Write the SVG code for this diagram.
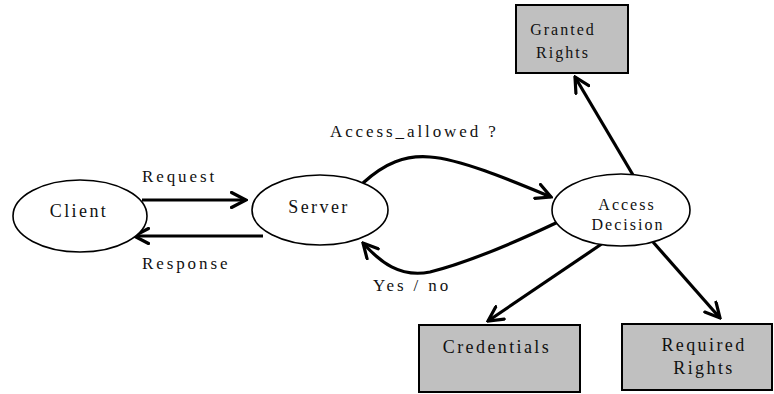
<svg xmlns="http://www.w3.org/2000/svg" width="774" height="394" viewBox="0 0 774 394" font-family="'Liberation Serif', 'Times New Roman', 'DejaVu Serif', serif">
  <style>
    .node ellipse { fill: #ffffff; stroke: #000000; stroke-width: 1.6; }
    .node rect { fill: #c0c0c0; stroke: #000000; stroke-width: 2; }
    text { font-family: 'Liberation Serif', 'Times New Roman', 'DejaVu Serif', serif; fill: #111111; text-anchor: middle; }
    .big { font-size: 18px; letter-spacing: 2.4px; }
    .small { font-size: 16px; letter-spacing: 2px; }
    .label { font-size: 17px; letter-spacing: 2.9px; text-anchor: start; }
    .edge { fill: none; stroke: #000000; stroke-width: 3.2; marker-end: url(#open); }
  </style>
  <defs>
    <marker id="open" markerUnits="userSpaceOnUse" viewBox="0 0 18 18" refX="16" refY="9" markerWidth="18" markerHeight="18" orient="auto">
      <path d="M1.5,1.5 L16,9 L1.5,16.5" fill="none" stroke="#000000" stroke-width="3.2" stroke-linecap="round" stroke-linejoin="miter"/>
    </marker>
  </defs>

  <rect width="774" height="394" fill="#ffffff"/>

  <g id="connectors">
    <path class="edge" d="M142,200 L246,200"/>
    <path class="edge" d="M263,236 L134,236"/>
    <path class="edge" d="M363,183 C385,163 405,155 430,157 C460,159 510,180 551,197"/>
    <path class="edge" d="M558,222 C520,240 470,262 430,272 C400,278 380,262 363,243"/>
    <path class="edge" d="M633,175 L575,77"/>
    <path class="edge" d="M606,241 L488,321"/>
    <path class="edge" d="M653,242 L720,318"/>
  </g>

  <g id="client" class="node">
    <ellipse cx="80" cy="216" rx="67" ry="36"/>
    <text class="big" x="79" y="217">Client</text>
  </g>

  <g id="server" class="node">
    <ellipse cx="320" cy="210" rx="68" ry="35"/>
    <text class="big" x="319" y="213">Server</text>
  </g>

  <g id="access-decision" class="node">
    <ellipse cx="621" cy="210" rx="69" ry="36"/>
    <text class="small" x="627" y="210">Access</text>
    <text class="small" x="628" y="230">Decision</text>
  </g>

  <g id="granted-rights" class="node">
    <rect x="516" y="5" width="112" height="68"/>
    <text class="small" x="563" y="35">Granted</text>
    <text class="small" x="563" y="58">Rights</text>
  </g>

  <g id="credentials" class="node">
    <rect x="419" y="325" width="161" height="67"/>
    <text class="big" x="497" y="353">Credentials</text>
  </g>

  <g id="required-rights" class="node">
    <rect x="622" y="324" width="150" height="66"/>
    <text class="big" x="704" y="351">Required</text>
    <text class="big" x="704" y="374">Rights</text>
  </g>

  <g id="edge-labels">
    <text class="label" x="142" y="182">Request</text>
    <text class="label" x="142" y="269">Response</text>
    <text class="label" x="330" y="137">Access_allowed ?</text>
    <text class="label" x="373" y="291">Yes / no</text>
  </g>
</svg>
